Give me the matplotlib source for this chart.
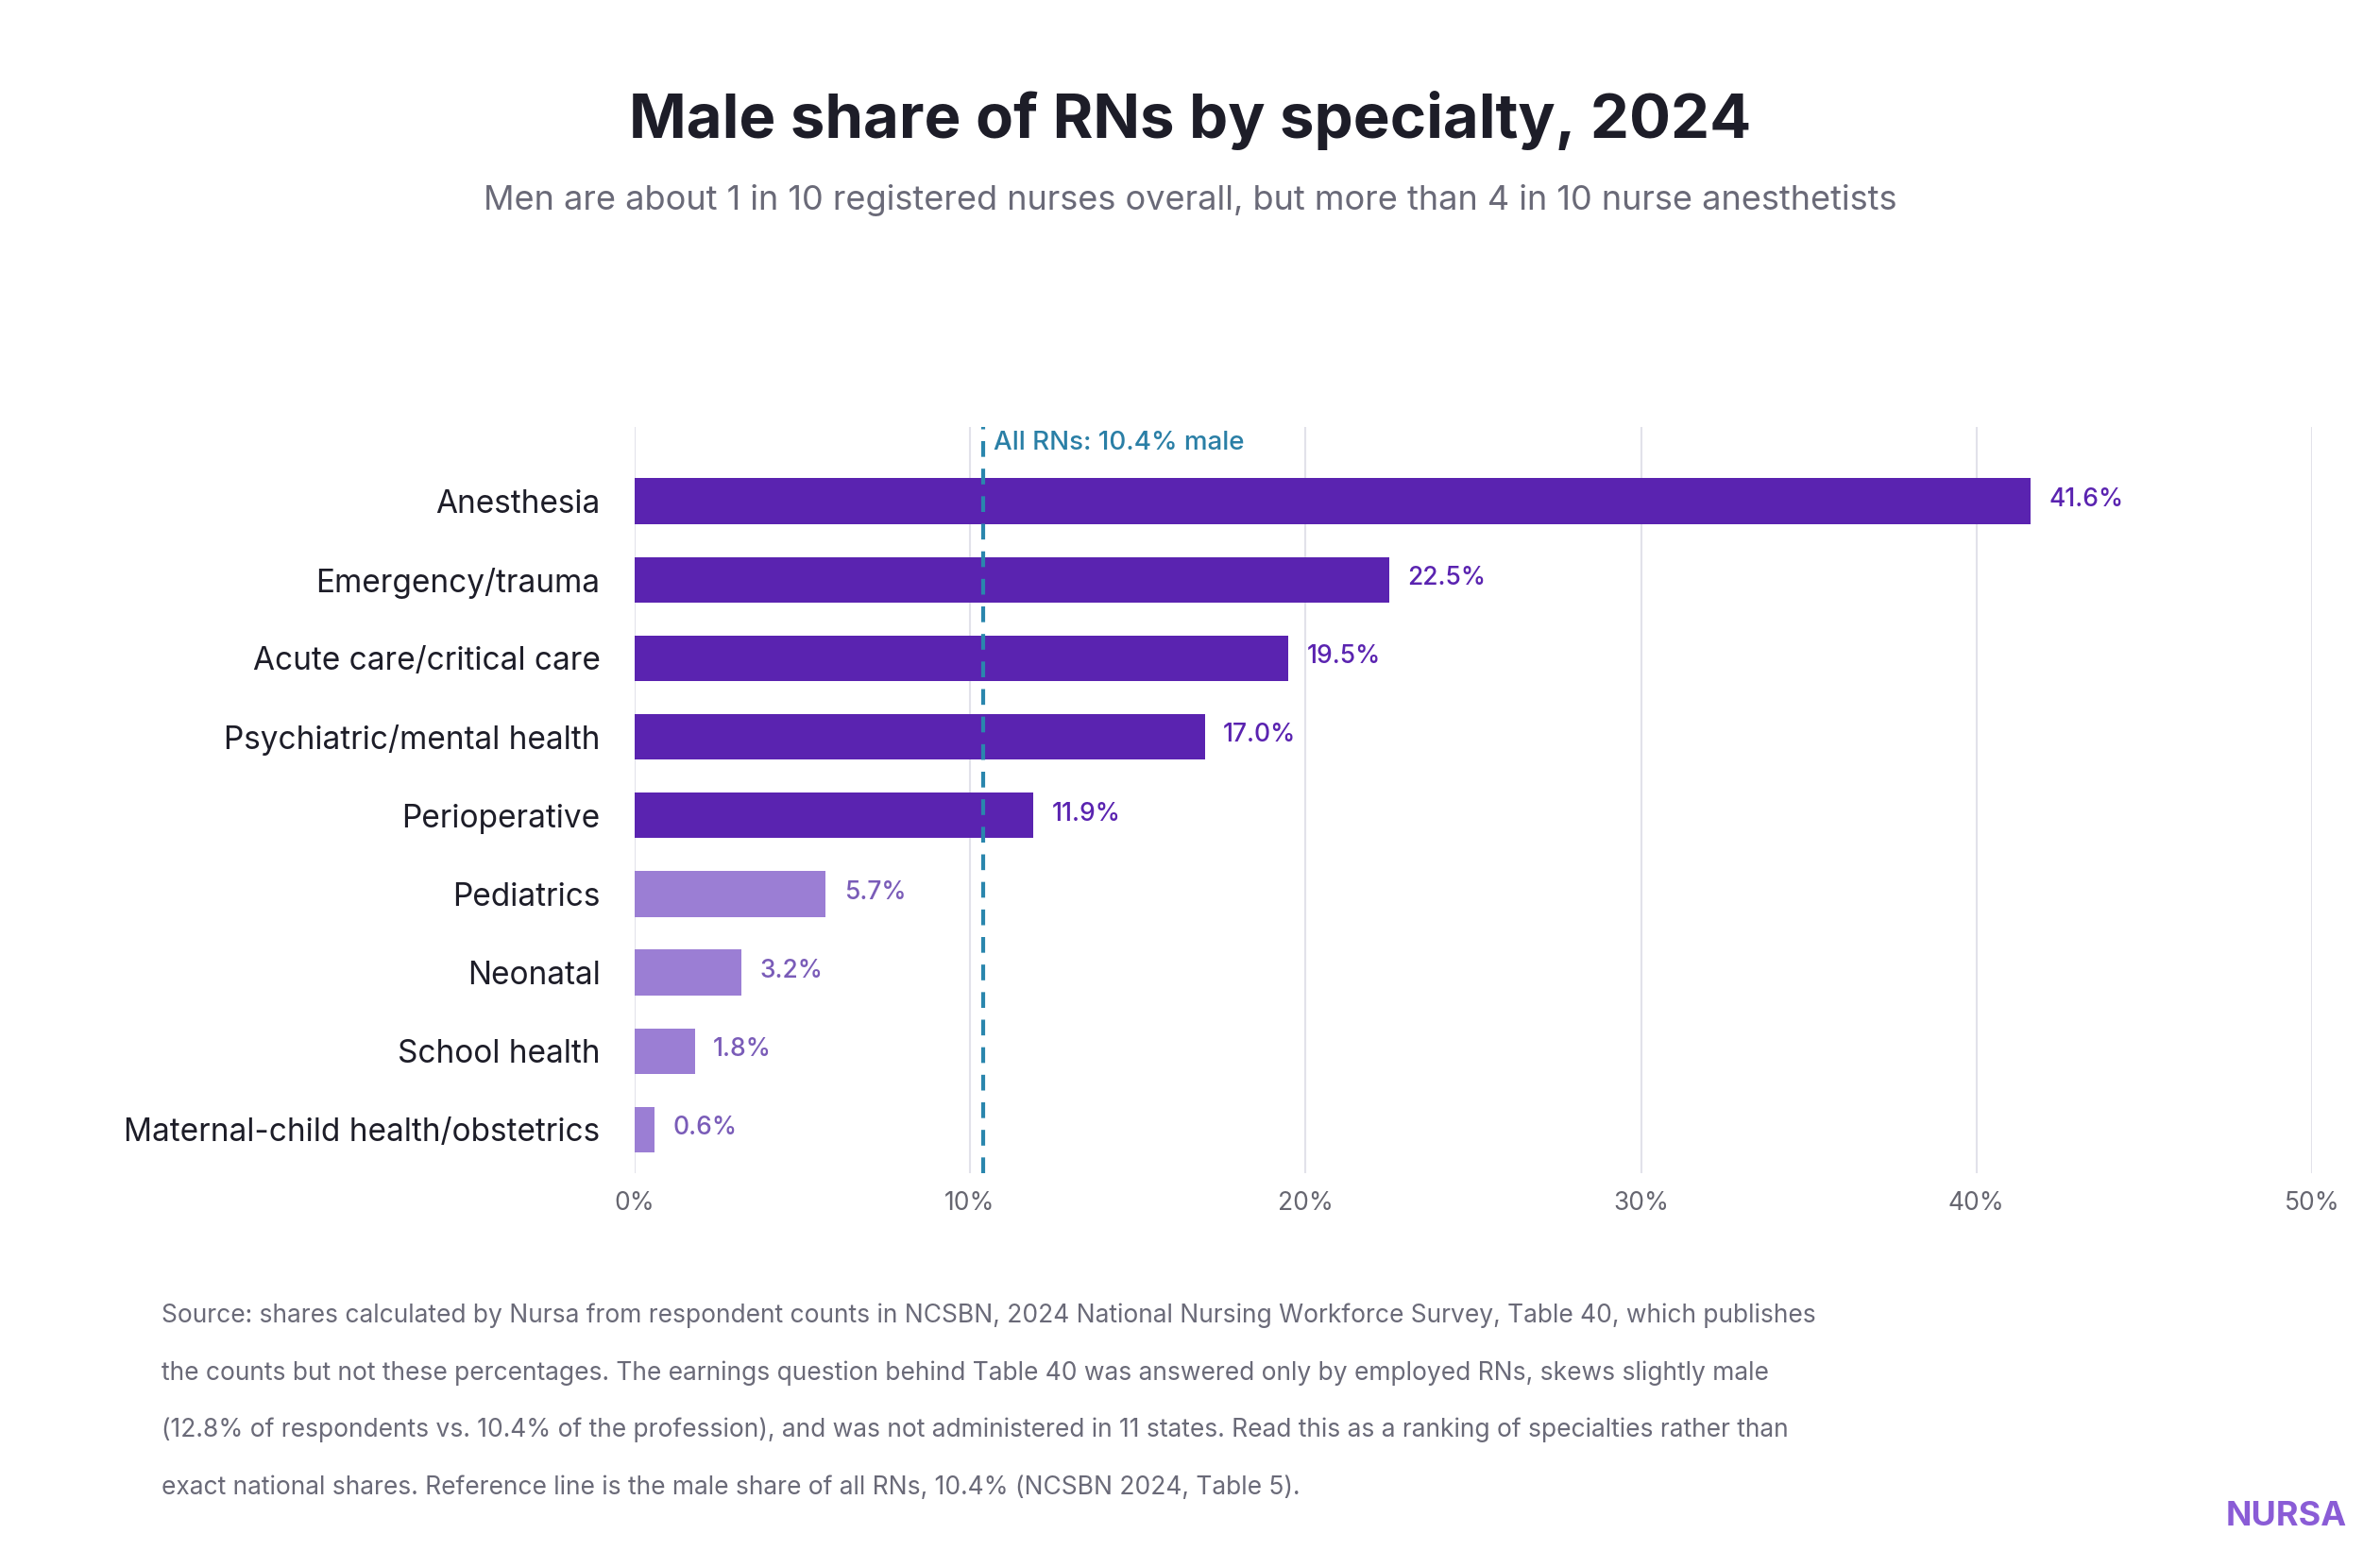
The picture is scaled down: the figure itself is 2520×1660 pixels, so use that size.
import matplotlib.pyplot as plt

plt.rcParams['font.family'] = ['Inter', 'DejaVu Sans']

specialties = ['Anesthesia', 'Emergency/trauma', 'Acute care/critical care',
               'Psychiatric/mental health', 'Perioperative', 'Pediatrics',
               'Neonatal', 'School health', 'Maternal-child health/obstetrics']
male_share = [41.6, 22.5, 19.5, 17.0, 11.9, 5.7, 3.2, 1.8, 0.6]
all_rns = 10.4
ticks = [0, 10, 20, 30, 40, 50]

dark = '#5a23b0'
light = '#9b7ed4'

fig = plt.figure(figsize=(25.2, 16.6), dpi=100)
ax = fig.add_axes([0.2665, 0.252, 0.7115 - 0.0065, 0.476])

y = list(range(len(specialties)))
for i, v in zip(y, male_share):
    c = dark if v > all_rns else light
    ax.barh(i, v, height=0.58, color=c, zorder=3)
    ax.text(v + 0.55, i - 0.02, f'{v:.1f}%', va='center', ha='left', fontsize=19,
            color=dark if v > all_rns else '#7a5cb8', fontweight='medium')

ax.axvline(all_rns, color='#2a86ad', lw=3, ls=(0, (4, 3)), zorder=4)
ax.text(all_rns + 0.3, -0.58, 'All RNs: 10.4% male', color='#2a7fa6',
        fontsize=20, va='bottom', fontweight='medium')

ax.set_xlim(0, 50)
ax.set_ylim(len(specialties) - 0.45, -0.95)
ax.set_yticks(y)
ax.set_yticklabels(specialties, fontsize=24, color='#1d1d28')
ax.set_xticks(ticks)
ax.set_xticklabels([f'{t}%' for t in ticks], fontsize=19, color='#666670')
ax.tick_params(axis='y', length=0, pad=26)
ax.tick_params(axis='x', length=0, pad=14)
ax.grid(axis='x', color='#e2e2ea', lw=1.5, zorder=0)
for s in ax.spines.values():
    s.set_visible(False)

fig.text(0.5, 0.912, 'Male share of RNs by specialty, 2024', ha='center',
         fontsize=47, fontweight='bold', color='#1d1d28')
fig.text(0.5, 0.866, 'Men are about 1 in 10 registered nurses overall, but more than 4 in 10 nurse anesthetists',
         ha='center', fontsize=26, color='#6a6a78')

notes = ['Source: shares calculated by Nursa from respondent counts in NCSBN, 2024 National Nursing Workforce Survey, Table 40, which publishes',
         'the counts but not these percentages. The earnings question behind Table 40 was answered only by employed RNs, skews slightly male',
         '(12.8% of respondents vs. 10.4% of the profession), and was not administered in 11 states. Read this as a ranking of specialties rather than',
         'exact national shares. Reference line is the male share of all RNs, 10.4% (NCSBN 2024, Table 5).']
for k, line in enumerate(notes):
    fig.text(0.068, 0.161 - k * 0.0365, line, fontsize=19, color='#6a6a78', va='center')

fig.text(0.986, 0.033, 'NURSA', ha='right', va='center', fontsize=26,
         fontweight='bold', color='#8a5cd6')

fig.savefig('out.png', dpi=100, facecolor='white')
